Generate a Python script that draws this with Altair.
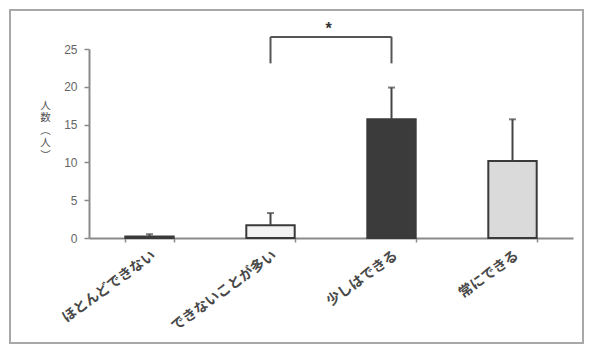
import altair as alt
import pandas as pd

categories = ["ほとんどできない", "できないことが多い", "少しはできる", "常にできる"]
means = [0.2, 1.7, 15.7, 10.2]
errors = [0.3, 1.6, 4.2, 5.5]
fills = ["#555555", "#f3f3f3", "#3b3b3b", "#dadada"]

bracket_from = "できないことが多い"
bracket_to = "少しはできる"
bracket_low = 23.1
bracket_high = 26.6
star_label = "*"
star_y = 27.6
y_ticks = [0, 5, 10, 15, 20, 25]

df = pd.DataFrame({"cat": categories, "mean": means, "err": errors, "fill": fills})
df["top"] = df["mean"] + df["err"]

JP = "Noto Sans CJK JP"
xscale = alt.Scale(domain=categories, paddingInner=0.6, paddingOuter=0.3)
xaxis = alt.Axis(labelAngle=-36, labelFont=JP, labelFontSize=14, labelFontWeight="bold",
                 labelColor="#484848", domainColor="#8a8a8a", domainWidth=2,
                 tickColor="#8a8a8a", tickSize=4, tickWidth=1.5, tickBand="extent",
                 labelPadding=6, labelLimit=200)
yscale = alt.Scale(domain=[0, 25], nice=False)
yaxis = alt.Axis(values=y_ticks, grid=False, labelOverlap=False, labelFont="Liberation Sans",
                 labelFontSize=12, labelColor="#666666", domainColor="#8a8a8a", domainWidth=2,
                 tickColor="#8a8a8a", tickSize=5, tickWidth=1.5, labelPadding=7,
                 title=["人", "数", "︵", "人", "︶"], titleAngle=0, titleFont=JP, titleFontSize=10.5,
                 titleFontWeight="normal", titleColor="#555555", titleLineHeight=12.5,
                 titleX=-44, titleY=51, titleAlign="center", titleBaseline="top")


def X(field):
    return alt.X(field + ":N", scale=xscale, axis=xaxis, title=None)


def Y(field):
    return alt.Y(field + ":Q", scale=yscale, axis=yaxis)


base = alt.Chart(df)
bars = base.mark_bar(stroke="#3a3a3a", strokeWidth=2).encode(
    x=X("cat"), y=Y("mean"), fill=alt.Fill("fill:N", scale=None))
stems = base.mark_rule(color="#444444", strokeWidth=2).encode(
    x=X("cat"), y=Y("mean"), y2="top:Q")
caps = base.mark_tick(color="#444444", thickness=2, size=7, orient="horizontal").encode(
    x=X("cat"), y=Y("top"))

br = pd.DataFrame({"a": [bracket_from, bracket_to], "lo": [bracket_low] * 2, "hi": [bracket_high] * 2})
verts = alt.Chart(br).mark_rule(color="#555555", strokeWidth=2).encode(
    x=X("a"), y=Y("lo"), y2="hi:Q")
hb = pd.DataFrame({"a": [bracket_from], "b": [bracket_to], "hi": [bracket_high]})
horiz = alt.Chart(hb).mark_rule(color="#555555", strokeWidth=2).encode(
    x=X("a"), x2="b:N", y=Y("hi"))
sd = pd.DataFrame({"a": [bracket_to], "y": [star_y], "t": [star_label]})
star = alt.Chart(sd).mark_text(fontSize=16, fontWeight="bold", color="#333333", dx=-63, baseline="middle").encode(
    x=X("a"), y=Y("y"), text="t:N")

frame = alt.Chart(pd.DataFrame({"k": [0]})).mark_rect(
    fill=None, stroke="#a8a8a8", strokeWidth=2).encode(
    x=alt.value(-79), x2=alt.value(494), y=alt.value(-39), y2=alt.value(294))

chart = alt.layer(frame, bars, stems, caps, verts, horiz, star).properties(
    width=484, height=189,
    autosize=alt.AutoSizeParams(type="none"),
    padding={"left": 81, "top": 41, "right": 11, "bottom": 106},
).configure_view(stroke=None)

chart.save("out.html", embed_options={"renderer": "svg", "actions": False})
